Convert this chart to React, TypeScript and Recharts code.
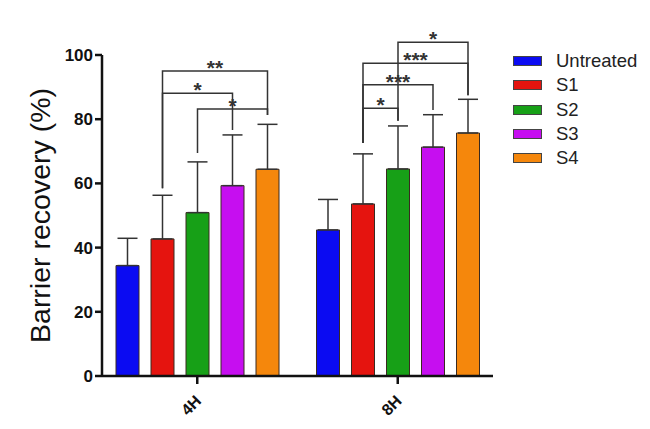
import { BarChart, Bar, XAxis, YAxis, ErrorBar, Legend, Rectangle } from 'recharts';

const groups = ['4H', '8H'];
const seriesNames = ['Untreated', 'S1', 'S2', 'S3', 'S4'];
const seriesColors = ['#0b0bf2', '#e5140f', '#17a017', '#c60ef0', '#f5870c'];

const untreated = [34.4, 45.5];
const untreatedErr = [8.5, 9.5];
const s1 = [42.7, 53.6];
const s1Err = [13.6, 15.6];
const s2 = [50.9, 64.5];
const s2Err = [15.8, 13.4];
const s3 = [59.3, 71.3];
const s3Err = [15.8, 10.1];
const s4 = [64.4, 75.7];
const s4Err = [14.0, 10.5];

const yTicks = [0, 20, 40, 60, 80, 100];

// significance brackets: group, from bar, to bar, level, left leg bottom, right leg bottom, stars
const brackets: [number, number, number, number, number, number, string][] = [
  [0, 1, 4, 95.0, 58.5, 81.3, '**'],
  [0, 1, 3, 88.1, 58.5, 76.6, '*'],
  [0, 2, 4, 83.2, 69.5, 81.3, '*'],
  [1, 2, 4, 104.0, 79.5, 87.5, '*'],
  [1, 1, 4, 97.4, 72.6, 87.5, '***'],
  [1, 1, 3, 90.7, 72.6, 82.9, '***'],
  [1, 1, 2, 83.4, 72.6, 79.5, '*'],
];

const values = [untreated, s1, s2, s3, s4];
const errors = [untreatedErr, s1Err, s2Err, s3Err, s4Err];
const keys = ['u', 's1', 's2', 's3', 's4'];

const data = groups.map((g, gi) => {
  const row: Record<string, any> = { group: g };
  keys.forEach((k, si) => {
    row[k] = values[si][gi];
    row[k + 'Err'] = [0, errors[si][gi]];
  });
  return row;
});

const W = 650;
const H = 429;
const LEFT = 102;
const LEGEND_W = 137;
const RIGHT = 650 - 493 - LEGEND_W;
const PAD = -5;
const BAR = 23;
const GAP = 12;

const FONT = '"Liberation Sans", Arial, sans-serif';
const INK = '#333';

function XTick({ x, y, payload }: any) {
  return (
    <g transform={`translate(${x + 1},${y + 12})`}>
      <text
        transform="rotate(-45)"
        textAnchor="end"
        dy="0.35em"
        fontFamily={FONT}
        fontWeight="bold"
        fontSize={16}
        fill="#111"
      >
        {payload.value}
      </text>
    </g>
  );
}

function YLabel({ viewBox }: any) {
  const cx = viewBox.x + 40;
  const cy = viewBox.y + viewBox.height / 2;
  return (
    <text
      x={cx}
      y={cy}
      transform={`rotate(-90,${cx},${cy})`}
      textAnchor="middle"
      dy="0.35em"
      fontFamily={FONT}
      fontSize={28.5}
      fill="#111"
    >
      Barrier recovery (%)
    </text>
  );
}

function LegendBox({ payload }: any) {
  const items = [...(payload || [])].sort(
    (a: any, b: any) => seriesNames.indexOf(a.value) - seriesNames.indexOf(b.value)
  );
  return (
    <div style={{ fontFamily: FONT }}>
      {items.map((p: any) => (
        <div key={p.value} style={{ display: 'flex', alignItems: 'center', height: 24.3 }}>
          <div
            style={{
              width: 27,
              height: 8,
              background: p.color,
              border: '1px solid #444',
              marginRight: 14,
            }}
          />
          <span style={{ fontSize: 18.5, color: '#222' }}>{p.value}</span>
        </div>
      ))}
    </div>
  );
}

// first bar of each group also draws that group's significance brackets,
// using the bar's own pixel box to recover the y scale
function FirstBar(props: any) {
  const { x, y, width, height, payload, index } = props;
  const base = y + height;
  const perUnit = height / payload.u;
  const py = (v: number) => base - v * perUnit;
  const cx = (i: number) => x + width / 2 + i * (BAR + GAP);
  return (
    <g>
      <Rectangle {...props} />
      {brackets
        .filter((b) => b[0] === index)
        .map(([, a, b, level, lb, rb, stars], k) => (
          <g key={k}>
            <path
              d={`M${cx(a)},${py(lb)}V${py(level)}H${cx(b)}V${py(rb)}`}
              fill="none"
              stroke={INK}
              strokeWidth={1.5}
            />
            <text
              x={(cx(a) + cx(b)) / 2}
              y={py(level) + 4}
              textAnchor="middle"
              fontFamily={FONT}
              fontWeight="bold"
              fontSize={21}
              fill={INK}
            >
              {stars}
            </text>
          </g>
        ))}
    </g>
  );
}

export default function App() {
  return (
    <div style={{ position: 'absolute', left: 0, top: 0, background: '#fff' }}>
      <BarChart
        width={W}
        height={H}
        data={data}
        margin={{ top: 55, right: RIGHT, bottom: 0, left: 0 }}
        barSize={BAR}
        barGap={GAP}
      >
        <XAxis
          dataKey="group"
          height={53}
          padding={{ left: PAD, right: PAD }}
          axisLine={{ stroke: '#111', strokeWidth: 2.5 }}
          tickLine={{ stroke: '#111', strokeWidth: 2.5 }}
          tickSize={8}
          tickMargin={2}
          tick={<XTick />}
          interval={0}
        />
        <YAxis
          width={LEFT}
          domain={[0, 100]}
          ticks={yTicks}
          interval={0}
          axisLine={{ stroke: '#111', strokeWidth: 2.5 }}
          tickLine={{ stroke: '#111', strokeWidth: 2.5 }}
          tickSize={7}
          tickMargin={2}
          tick={{ fill: '#111', fontSize: 17, fontWeight: 'bold', fontFamily: FONT }}
          label={<YLabel />}
        />
        <Legend
          layout="vertical"
          align="right"
          verticalAlign="top"
          content={<LegendBox />}
          wrapperStyle={{ left: 513, top: 49, width: LEGEND_W }}
        />
        {keys.map((k, i) => (
          <Bar
            key={k}
            dataKey={k}
            name={seriesNames[i]}
            fill={seriesColors[i]}
            stroke="#3a2a20"
            strokeWidth={1}
            shape={i === 0 ? FirstBar : undefined}
            isAnimationActive={false}
          >
            <ErrorBar dataKey={k + 'Err'} width={10} stroke={INK} strokeWidth={1.5} direction="y" />
          </Bar>
        ))}
      </BarChart>
    </div>
  );
}
